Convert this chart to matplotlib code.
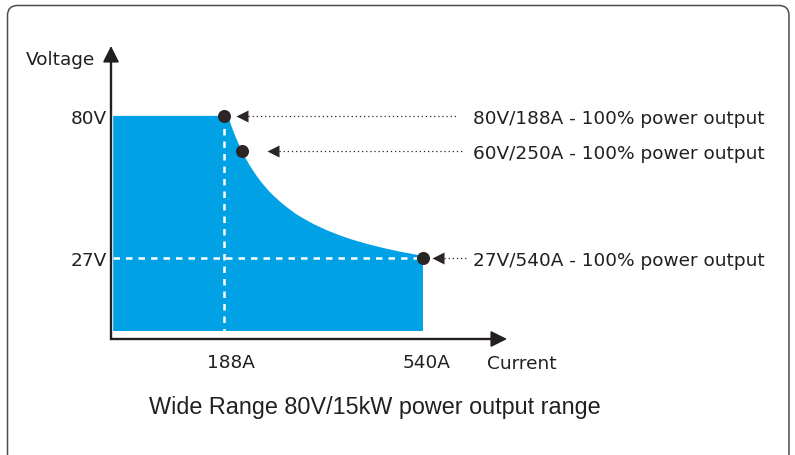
import matplotlib
matplotlib.use("Agg")
import matplotlib.pyplot as plt
from matplotlib.patches import FancyBboxPatch
from matplotlib.transforms import IdentityTransform

# ---------------- data ----------------
# boundary of the blue operating region (current in A, voltage in V)
edge_current = [-8, 188, 195.1, 202.2, 209.3, 219.3, 225.2, 232.3, 239.3, 246.4,
                253.5, 260.6, 269.4, 278.3, 288.9, 301.3, 315.4, 331.4, 349.0,
                368.5, 389.7, 414.5, 441.0, 469.3, 499.4, 527.7, 540]
edge_voltage = [80, 80, 80, 75.6, 71.8, 67.1, 64.7, 62.0, 59.7, 57.5,
                55.5, 53.7, 51.6, 49.8, 47.8, 45.7, 43.5, 41.5, 39.5,
                37.6, 35.8, 34.0, 32.4, 30.9, 29.5, 28.4, 27.9]

# marked operating points
point_current = [188, 219, 540]
point_voltage = [80, 67, 27]
point_labels = ["80V/188A - 100% power output",
                "60V/250A - 100% power output",
                "27V/540A - 100% power output"]

# reference guide lines
guide_current = 188
guide_voltage = 27

# axis tick labels
xtick_values = [188, 540]
xtick_labels = ["188A", "540A"]
ytick_values = [80, 27]
ytick_labels = ["80V", "27V"]

title = "Wide Range 80V/15kW power output range"

# ---------------- style / layout ----------------
W, H = 795, 456
FILL = "#00a1e5"
INK = "#231f20"
DOT = "#2b2526"

# pixel <-> data mapping of the picture
PX_PER_A = 0.5653
X0_PX = 117.7      # pixel column of 0 A
PX_PER_V = 2.689
V0_PX = 332.0      # pixel row of 0 V


def cx(px):
    return (px - X0_PX) / PX_PER_A


def vy(py):
    return (V0_PX - py) / PX_PER_V


fig = plt.figure(figsize=(W / 100, H / 100), dpi=100)
ax = fig.add_axes([0, 0, 1, 1])
ax.set_xlim(cx(0), cx(W))
ax.set_ylim(vy(H), vy(0))
ax.axis("off")

# outer rounded frame
frame = FancyBboxPatch((7.5, -20), 781.5, H - 6.5 + 20,
                       boxstyle="round,pad=0,rounding_size=10",
                       transform=IdentityTransform(), fill=False,
                       ec="#4d4d4d", lw=1.1)
fig.add_artist(frame)

# blue region
poly_x = [edge_current[0]] + edge_current + [edge_current[-1]]
poly_y = [0] + edge_voltage + [0]
ax.fill(poly_x, poly_y, color=FILL, lw=0, zorder=1, antialiased=True)

# white dashed guides
dash = (0, (2.6, 2.4))
ax.plot([guide_current, guide_current], [edge_voltage[0], 0],
        color="white", lw=1.8, ls=dash, zorder=2)
ax.plot([edge_current[0], point_current[-1]], [guide_voltage, guide_voltage],
        color="white", lw=1.8, ls=dash, zorder=2)

# axes with arrow heads
ox, oy = cx(111), vy(340)
ytip, xtip = vy(47), cx(507)
ax.plot([ox, ox, xtip - 8 / PX_PER_A], [ytip - 8 / PX_PER_V, oy, oy],
        color=INK, lw=1.7, solid_joinstyle="miter", zorder=3)
arrow_kw = dict(arrowstyle="-|>,head_length=0.4,head_width=0.2",
                mutation_scale=25, lw=1.2, color=INK, shrinkA=0, shrinkB=0)
ax.annotate("", xy=(ox, ytip), xytext=(ox, ytip - 20 / PX_PER_V),
            arrowprops=arrow_kw, zorder=3)
ax.annotate("", xy=(xtip, oy), xytext=(xtip - 20 / PX_PER_A, oy),
            arrowprops=arrow_kw, zorder=3)

# points
ax.plot(point_current, point_voltage, "o", ms=9.4, color=DOT, mec="none", zorder=5)

# leader arrows and labels
label_x = cx(473)
tip_gap_px = [13, 26, 10]
leader_gap_px = [16, 11, 6]
tri_len_px = 11
lab_font = dict(family=["DejaVu Sans"], fontsize=13.3, color=INK)
for c, v, lab, g, lg in zip(point_current, point_voltage, point_labels,
                            tip_gap_px, leader_gap_px):
    tip = c + g / PX_PER_A
    ax.plot([tip + 5.5 / PX_PER_A], [v], marker="<", ms=8.2, color=DOT,
            mec="none", zorder=5)
    ax.plot([tip + tri_len_px / PX_PER_A, label_x - lg / PX_PER_A], [v, v],
            color=DOT, lw=0.9, ls=(0, (1, 2.3)), zorder=4)
    ax.text(label_x, v, lab, ha="left", va="center_baseline", **lab_font)

# tick labels
for v, t in zip(ytick_values, ytick_labels):
    ax.text(ox - 4 / PX_PER_A, v, t, ha="right", va="center_baseline", **lab_font)
xtick_offsets_px = [7, 4]
for c, t, o in zip(xtick_values, xtick_labels, xtick_offsets_px):
    ax.text(c + o / PX_PER_A, vy(361), t, ha="center", va="center_baseline", **lab_font)

# axis titles
ax.text(cx(95), vy(58), "Voltage", ha="right", va="center_baseline", **lab_font)
ax.text(cx(487), vy(362), "Current", ha="left", va="center_baseline", **lab_font)

# caption
ax.text(cx(375), vy(405), title, ha="center", va="center_baseline",
        family=["Liberation Sans", "DejaVu Sans"], fontsize=16.8, color=INK)

fig.savefig("out.png", dpi=100)
